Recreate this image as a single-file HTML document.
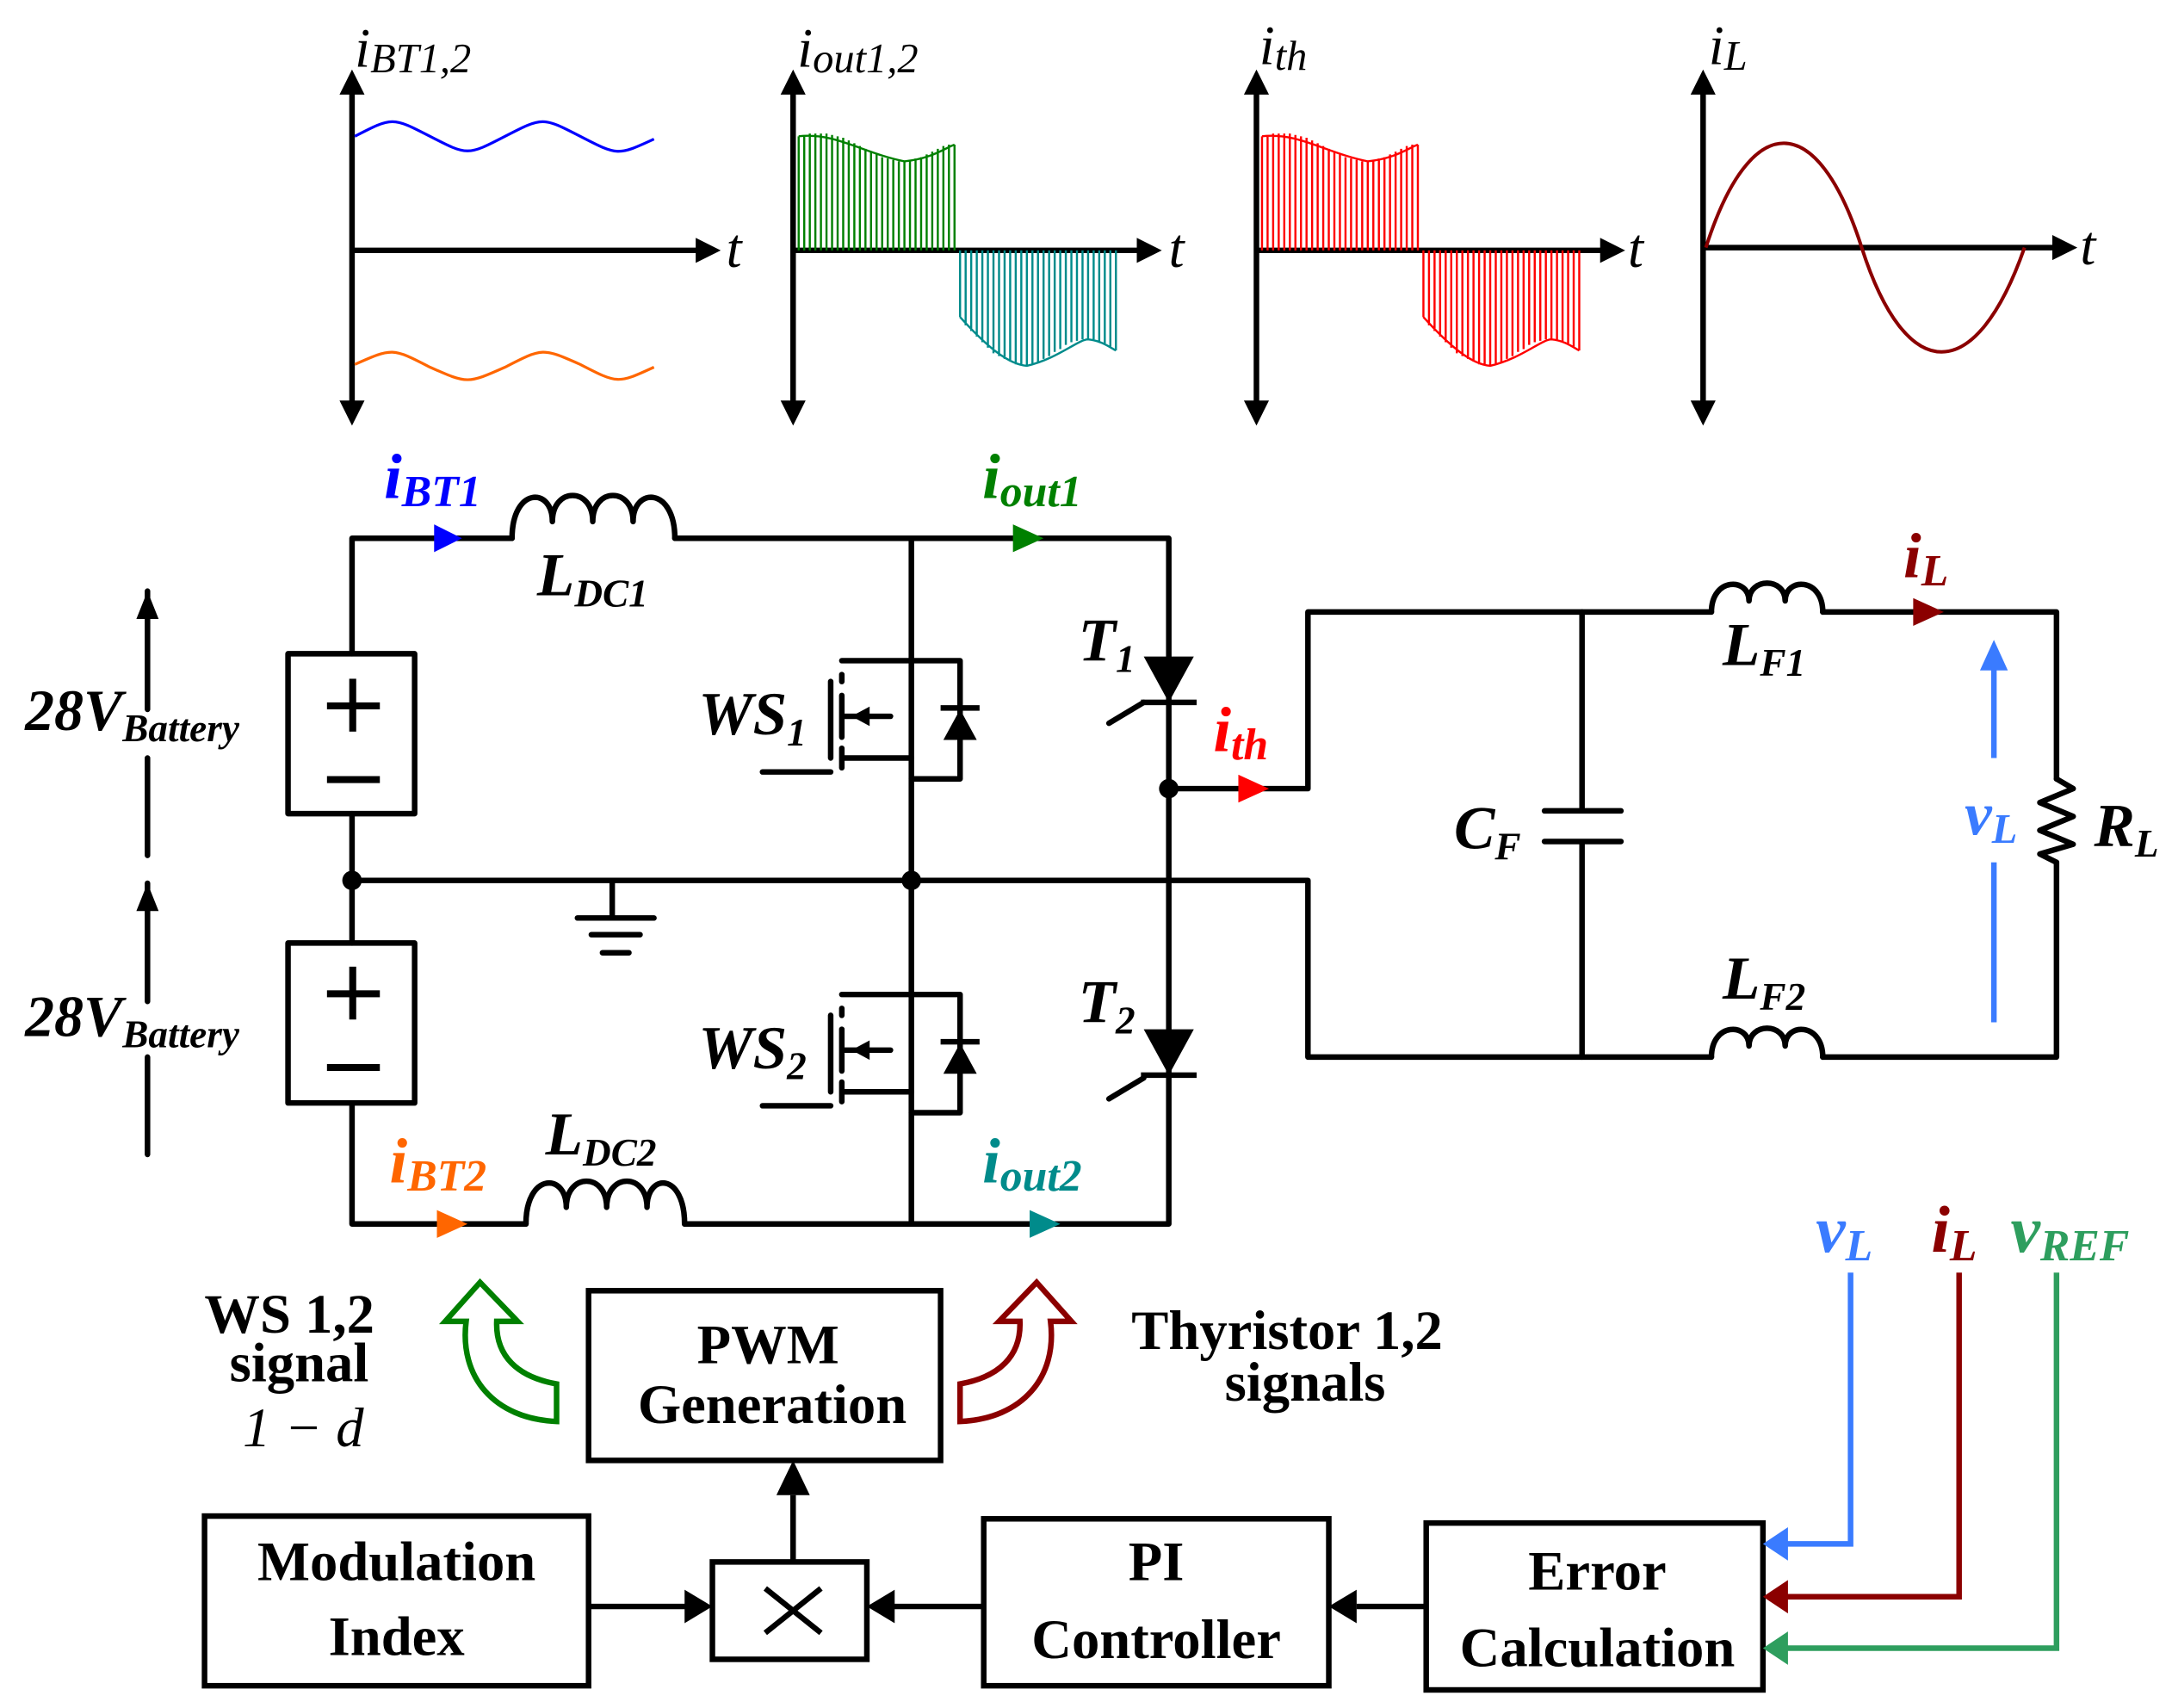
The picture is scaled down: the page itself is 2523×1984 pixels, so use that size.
<!DOCTYPE html>
<html><head><meta charset="utf-8"><style>
html,body{margin:0;padding:0;background:#fff;}
svg{display:block;}
text{font-family:"Liberation Serif",serif;}
.lb{font-weight:bold;font-style:italic;}
.it{font-style:italic;}
.bx{font-weight:bold;font-size:40px;text-anchor:middle;}
</style></head><body>
<svg width="2523" height="1984" viewBox="0 0 1561 1228" preserveAspectRatio="none" xmlns="http://www.w3.org/2000/svg">
<g stroke="#000" stroke-width="4" fill="none">
<line x1="253" y1="62" x2="253" y2="296"/><line x1="253" y1="180" x2="505" y2="180"/>
<line x1="570" y1="62" x2="570" y2="296"/><line x1="570" y1="180" x2="822" y2="180"/>
<line x1="903" y1="62" x2="903" y2="296"/><line x1="903" y1="180" x2="1155" y2="180"/>
<line x1="1224" y1="62" x2="1224" y2="296"/><line x1="1224" y1="178" x2="1480" y2="178"/>
</g>
<g fill="#000">
<path d="M244,68 L253,50 L262,68z"/><path d="M244,288 L253,306 L262,288z"/><path d="M500,171 L518,180 L500,189z"/>
<path d="M561,68 L570,50 L579,68z"/><path d="M561,288 L570,306 L579,288z"/><path d="M817,171 L835,180 L817,189z"/>
<path d="M894,68 L903,50 L912,68z"/><path d="M894,288 L903,306 L912,288z"/><path d="M1150,171 L1168,180 L1150,189z"/>
<path d="M1215,68 L1224,50 L1233,68z"/><path d="M1215,288 L1224,306 L1233,288z"/><path d="M1475,169 L1493,178 L1475,187z"/>
</g>
<g class="it" font-size="40">
<text x="522" y="192" class="it">t</text><text x="840" y="192" class="it">t</text><text x="1170" y="192" class="it">t</text><text x="1495" y="190" class="it">t</text>
<text x="255" y="48" class="it">i<tspan font-size="30" dy="4">BT1,2</tspan></text>
<text x="573" y="48" class="it">i<tspan font-size="30" dy="4">out1,2</tspan></text>
<text x="905" y="46" class="it">i<tspan font-size="30" dy="4">th</tspan></text>
<text x="1228" y="46" class="it">i<tspan font-size="30" dy="4">L</tspan></text>
</g>
<path d="M255,98 C282,84 282,84 309,98 C336,112 336,112 363,98 C390,84 390,84 417,98 C444,112 444,112 470,100" stroke="#0000ff" stroke-width="2" fill="none"/>
<path d="M255,262 C282,250 282,250 309,264 C336,276 336,276 363,264 C390,250 390,250 417,262 C444,276 444,276 470,264" stroke="#ff6600" stroke-width="2" fill="none"/>
<g stroke-width="1.5" fill="none">
<path d="M574,180 V98 M578,180 V97 M582,180 V96 M586,180 V96 M590,180 V96 M594,180 V96 M598,180 V97 M602,180 V98 M606,180 V99 M610,180 V101 M614,180 V103 M618,180 V105 M622,180 V107 M626,180 V109 M630,180 V111 M634,180 V113 M638,180 V114 M642,180 V115 M646,180 V116 M650,180 V116 M654,180 V115 M658,180 V114 M662,180 V113 M666,180 V111 M670,180 V109 M674,180 V107 M678,180 V105 M682,180 V104 M686,180 V104 M574,98 C600,95 620,110 650,116 C670,114 680,106 686,104" stroke="#008000"/>
<path d="M690,180 V228 M694,180 V234 M698,180 V238 M702,180 V242 M706,180 V246 M710,180 V250 M714,180 V254 M718,180 V256 M722,180 V258 M726,180 V260 M730,180 V262 M734,180 V262 M738,180 V263 M742,180 V262 M746,180 V260 M750,180 V258 M754,180 V256 M758,180 V253 M762,180 V251 M766,180 V248 M770,180 V246 M774,180 V245 M778,180 V244 M782,180 V244 M786,180 V245 M790,180 V246 M794,180 V248 M798,180 V250 M802,180 V252 M690,228 C710,250 725,262 738,263 C760,258 775,244 782,244 C792,245 798,250 802,252" stroke="#008b8b"/>
<path d="M907,180 V98 M911,180 V97 M915,180 V96 M919,180 V96 M923,180 V96 M927,180 V96 M931,180 V97 M935,180 V98 M939,180 V99 M943,180 V101 M947,180 V103 M951,180 V105 M955,180 V107 M959,180 V109 M963,180 V111 M967,180 V113 M971,180 V114 M975,180 V115 M979,180 V116 M983,180 V116 M987,180 V115 M991,180 V114 M995,180 V113 M999,180 V111 M1003,180 V109 M1007,180 V107 M1011,180 V105 M1015,180 V104 M1019,180 V104 M907,98 C933,95 953,110 983,116 C1003,114 1013,106 1019,104 M1023,180 V228 M1027,180 V234 M1031,180 V238 M1035,180 V242 M1039,180 V246 M1043,180 V250 M1047,180 V254 M1051,180 V256 M1055,180 V258 M1059,180 V260 M1063,180 V262 M1067,180 V262 M1071,180 V263 M1075,180 V262 M1079,180 V260 M1083,180 V258 M1087,180 V256 M1091,180 V253 M1095,180 V251 M1099,180 V248 M1103,180 V246 M1107,180 V245 M1111,180 V244 M1115,180 V244 M1119,180 V245 M1123,180 V246 M1127,180 V248 M1131,180 V250 M1135,180 V252 M1023,228 C1043,250 1058,262 1071,263 C1093,258 1108,244 1115,244 C1125,245 1131,250 1135,252" stroke="#ff0000"/>
</g>
<path d="M1226,178 C1258,78 1306,78 1338,178 C1370,278 1420,278 1455,178" stroke="#8b0000" stroke-width="2.5" fill="none"/>

<g stroke="#000" stroke-width="4" fill="none" stroke-linejoin="round" stroke-linecap="round">
<path d="M253,470 V387 H368 M485,387 H840 V880 H492 M378,880 H253 V793"/>
<path d="M368,387 C368,350 397,350 397,375 C397,350 426,350 426,375 C426,350 455,350 455,375 C455,350 485,350 485,387"/>
<path d="M378,880 C378,843 407,843 407,868 C407,843 436,843 436,868 C436,843 465,843 465,868 C465,843 492,843 492,880"/>
<rect x="207" y="470" width="91" height="115"/><rect x="207" y="678" width="91" height="115"/>
<path d="M253,585 V678 M253,633 H940 V760 H1230 M1310,760 H1478 V620 M1478,560 V440 H1310 M1230,440 H940 V567 H840"/>
<path d="M1230,440 C1230,415 1257,415 1257,432 C1257,415 1283,415 1283,432 C1283,415 1310,415 1310,440"/>
<path d="M1230,760 C1230,735 1257,735 1257,752 C1257,735 1283,735 1283,752 C1283,735 1310,735 1310,760"/>
<path d="M1478,560 L1490,567 L1466,577 L1490,587 L1466,597 L1490,607 L1466,614 L1478,620"/>
<path d="M1137,440 V583 M1110,583 H1165 M1110,605 H1165 M1137,605 V760"/>
<path d="M440,633 V660 M415,660 H470 M425,672 H460 M433,685 H452"/>
<path d="M655,387 V880"/>
<path d="M655,475 H605 M605,545 H655 M605,515 H640 M605,485 V490 M605,500 V530 M605,538 V552 M597,490 V545 M548,555 H597 M655,475 H690 V560 H655"/>
<path d="M655,715 H605 M605,785 H655 M605,755 H640 M605,725 V730 M605,740 V770 M605,778 V792 M597,730 V785 M548,795 H597 M655,715 H690 V800 H655"/>
<path d="M822,505 L797,520 M822,775 L797,790"/>
<path d="M106,425 V510 M106,545 V615 M106,635 V720 M106,760 V830"/>
</g>
<g fill="#000">
<path d="M612,515 L625,508 L625,522z"/><path d="M612,755 L625,748 L625,762z"/>
<path d="M690,510 L678,532 L702,532z"/><rect x="676" y="507" width="28" height="4"/>
<path d="M690,750 L678,772 L702,772z"/><rect x="676" y="747" width="28" height="4"/>
<path d="M822,472 L858,472 L840,505z"/><rect x="820" y="503" width="40" height="4"/>
<path d="M822,740 L858,740 L840,773z"/><rect x="820" y="771" width="40" height="4"/>
<circle cx="253" cy="633" r="7"/><circle cx="655" cy="633" r="7"/><circle cx="840" cy="567" r="7"/>
<path d="M98,445 L106,425 L114,445z"/><path d="M98,655 L106,635 L114,655z"/>
<rect x="235" y="505" width="38" height="5"/><rect x="251" y="488" width="5" height="38"/><rect x="235" y="558" width="38" height="5"/>
<rect x="235" y="712" width="38" height="5"/><rect x="251" y="695" width="5" height="38"/><rect x="235" y="765" width="38" height="5"/>
</g>
<path d="M312,377 L332,387 L312,397z" fill="#0000ff"/>
<path d="M728,377 L750,387 L728,397z" fill="#008000"/>
<path d="M890,557 L912,567 L890,577z" fill="#ff0000"/>
<path d="M1375,430 L1397,440 L1375,450z" fill="#8b0000"/>
<path d="M314,870 L336,880 L314,890z" fill="#ff6600"/>
<path d="M740,870 L762,880 L740,890z" fill="#008b8b"/>
<path d="M1433,735 V478" stroke="#3a7bff" stroke-width="4"/>
<path d="M1423,482 L1433,460 L1443,482z" fill="#3a7bff"/>
<rect x="1410" y="545" width="46" height="75" fill="#fff"/>
<g class="lb">
<text x="276" y="358" font-size="46" fill="#0000ff" class="lb">i<tspan font-size="32" dy="6">BT1</tspan></text>
<text x="706" y="358" font-size="46" fill="#008000" class="lb">i<tspan font-size="32" dy="6">out1</tspan></text>
<text x="872" y="540" font-size="46" fill="#ff0000" class="lb">i<tspan font-size="32" dy="6">th</tspan></text>
<text x="1368" y="415" font-size="46" fill="#8b0000" class="lb">i<tspan font-size="32" dy="6">L</tspan></text>
<text x="280" y="850" font-size="46" fill="#ff6600" class="lb">i<tspan font-size="32" dy="6">BT2</tspan></text>
<text x="706" y="850" font-size="46" fill="#008b8b" class="lb">i<tspan font-size="32" dy="6">out2</tspan></text>
<text x="1412" y="600" font-size="44" fill="#3a7bff" class="lb">v<tspan font-size="30" dy="6">L</tspan></text>
<text x="386" y="428" font-size="44" class="lb">L<tspan font-size="28" dy="8">DC1</tspan></text>
<text x="392" y="830" font-size="44" class="lb">L<tspan font-size="28" dy="8">DC2</tspan></text>
<text x="775" y="475" font-size="44" class="lb">T<tspan font-size="28" dy="8">1</tspan></text>
<text x="775" y="735" font-size="44" class="lb">T<tspan font-size="28" dy="8">2</tspan></text>
<text x="502" y="528" font-size="44" class="lb">WS<tspan font-size="28" dy="8">1</tspan></text>
<text x="502" y="768" font-size="44" class="lb">WS<tspan font-size="28" dy="8">2</tspan></text>
<text x="1045" y="610" font-size="44" class="lb">C<tspan font-size="28" dy="8">F</tspan></text>
<text x="1238" y="478" font-size="44" class="lb">L<tspan font-size="28" dy="8">F1</tspan></text>
<text x="1238" y="718" font-size="44" class="lb">L<tspan font-size="28" dy="8">F2</tspan></text>
<text x="1505" y="608" font-size="44" class="lb">R<tspan font-size="28" dy="8">L</tspan></text>
<text x="18" y="525" font-size="42" class="lb">28V<tspan font-size="28" dy="8">Battery</tspan></text>
<text x="18" y="745" font-size="42" class="lb">28V<tspan font-size="28" dy="8">Battery</tspan></text>
<text x="1305" y="900" font-size="48" fill="#3a7bff" class="lb">v<tspan font-size="32" dy="6">L</tspan></text>
<text x="1388" y="900" font-size="48" fill="#8b0000" class="lb">i<tspan font-size="32" dy="6">L</tspan></text>
<text x="1445" y="900" font-size="48" fill="#2e9e5e" class="lb">v<tspan font-size="32" dy="6">REF</tspan></text>
</g>
<g stroke="#000" stroke-width="4" fill="none">
<rect x="423" y="928" width="253" height="122"/>
<rect x="147" y="1090" width="276" height="122"/>
<rect x="512" y="1123" width="111" height="70"/>
<rect x="707" y="1092" width="248" height="120"/>
<rect x="1025" y="1095" width="242" height="120"/>
<path d="M423,1155 H495 M707,1155 H642 M1025,1155 H975 M570,1123 V1075 M550,1142 L590,1174 M590,1142 L550,1174"/>
</g>
<g fill="#000">
<path d="M492,1143 L512,1155 L492,1167z"/><path d="M643,1143 L623,1155 L643,1167z"/><path d="M975,1143 L955,1155 L975,1167z"/><path d="M558,1075 L570,1050 L582,1075z"/>
</g>
<path d="M1330,915 V1110 H1280" stroke="#3a7bff" stroke-width="4" fill="none"/><path d="M1285,1098 L1267,1110 L1285,1122z" fill="#3a7bff"/>
<path d="M1408,915 V1148 H1280" stroke="#8b0000" stroke-width="4" fill="none"/><path d="M1285,1136 L1267,1148 L1285,1160z" fill="#8b0000"/>
<path d="M1478,915 V1185 H1280" stroke="#2e9e5e" stroke-width="4" fill="none"/><path d="M1285,1173 L1267,1185 L1285,1197z" fill="#2e9e5e"/>
<text class="bx" x="552" y="980">PWM</text><text class="bx" x="555" y="1023">Generation</text>
<text class="bx" x="285" y="1136">Modulation</text><text class="bx" x="285" y="1190">Index</text>
<text class="bx" x="831" y="1136">PI</text><text class="bx" x="831" y="1192">Controller</text>
<text class="bx" x="1148" y="1143">Error</text><text class="bx" x="1148" y="1198">Calculation</text>
<text class="bx" x="208" y="958">WS 1,2</text><text class="bx" x="215" y="993">signal</text>
<text x="218" y="1040" font-size="40" text-anchor="middle" class="it">1 − d</text>
<text class="bx" x="925" y="970">Thyristor 1,2</text><text class="bx" x="938" y="1007">signals</text>
<path d="M400,1022 C355,1020 330,990 335,950 L320,950 L345,922 L372,950 L357,950 C356,975 372,990 400,995 Z" fill="#fff" stroke="#008000" stroke-width="4"/>
<path d="M690,1022 C735,1020 760,990 755,950 L770,950 L745,922 L718,950 L733,950 C734,975 718,990 690,995 Z" fill="#fff" stroke="#8b0000" stroke-width="4"/>
</svg>
</body></html>
